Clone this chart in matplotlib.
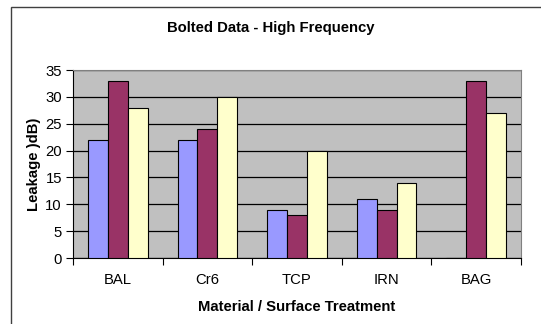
import numpy as np
import matplotlib.pyplot as plt
from matplotlib.patches import Rectangle

plt.rcParams['font.family'] = ['Liberation Sans', 'DejaVu Sans']

categories = ['BAL', 'Cr6', 'TCP', 'IRN', 'BAG']
series_1 = [22, 22, 9, 11, 0]
series_2 = [33, 24, 8, 9, 33]
series_3 = [28, 30, 20, 14, 27]
colors = ['#9999FF', '#993366', '#FFFFCC']

fig = plt.figure(figsize=(5.41, 3.24), dpi=100)
# outer chart border (cut off on right and bottom like the original)
fig.patches.append(Rectangle((11 / 541, -0.1), 1.2, 1 - 7 / 324 + 0.1,
                             transform=fig.transFigure, fill=False,
                             edgecolor='#404040', linewidth=1.0))

ax = fig.add_axes([73 / 541, 66 / 324, (521 - 73) / 541, (258 - 70) / 324])
ax.set_facecolor('#C0C0C0')

x = np.arange(len(categories))
w = 1 / 4.5
for i, vals in enumerate([series_1, series_2, series_3]):
    ax.bar(x + (i - 1) * w, vals, width=w, color=colors[i],
           edgecolor='black', linewidth=0.8, zorder=3)

ax.set_xlim(-0.5, len(categories) - 0.5)
ax.set_ylim(0, 35)
ax.set_yticks(range(0, 36, 5))
ax.yaxis.grid(True, color='black', linewidth=0.9)
ax.set_axisbelow(True)

ax.set_xticks(np.arange(-0.5, len(categories), 1))
ax.set_xticklabels([])
ax.set_xticks(x, minor=True)
ax.set_xticklabels(categories, minor=True)
ax.tick_params(axis='x', which='minor', length=0, pad=11, labelsize=10.7)
ax.tick_params(axis='x', which='major', length=5, direction='out')
ax.tick_params(axis='y', length=5, labelsize=10.7, pad=3)

for s in ['top', 'right']:
    ax.spines[s].set_color('#808080')
ax.spines['left'].set_color('black')
ax.spines['bottom'].set_color('black')

ax.set_xlabel('Material / Surface Treatment', fontsize=10.7, fontweight='bold', labelpad=9)
ax.set_ylabel('Leakage )dB)', fontsize=10.7, fontweight='bold', labelpad=3)
fig.text(0.5, 1 - 28 / 324, 'Bolted Data - High Frequency', ha='center', va='center',
         fontsize=10.7, fontweight='bold')

fig.savefig('out.png', dpi=100)
